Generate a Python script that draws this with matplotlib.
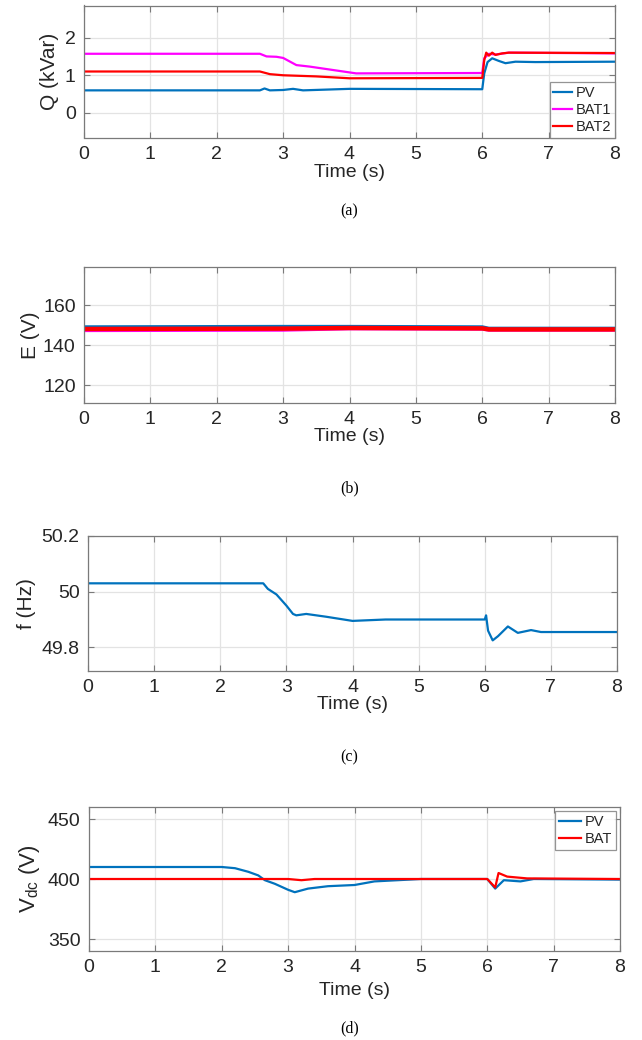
import matplotlib
matplotlib.use("Agg")
import matplotlib.pyplot as plt

plt.rcParams['font.family'] = ['Liberation Sans', 'DejaVu Sans']

# ---------------- data ----------------
# (a) reactive power
t_q_pv = [0, 2.65, 2.72, 2.8, 3.0, 3.15, 3.3, 4.0, 6.0, 6.03, 6.08, 6.15, 6.25, 6.35, 6.5, 6.8, 8.0]
q_pv = [0.60, 0.60, 0.65, 0.60, 0.61, 0.64, 0.60, 0.64, 0.63, 1.05, 1.35, 1.45, 1.38, 1.32, 1.36, 1.35, 1.36]
t_q_bat1 = [0, 2.65, 2.75, 2.9, 3.0, 3.2, 3.4, 4.1, 6.0, 6.03, 6.1, 6.2, 6.4, 8.0]
q_bat1 = [1.57, 1.57, 1.50, 1.49, 1.46, 1.27, 1.23, 1.05, 1.06, 1.45, 1.57, 1.55, 1.60, 1.58]
t_q_bat2 = [0, 2.65, 2.8, 3.0, 3.5, 4.0, 6.0, 6.03, 6.06, 6.1, 6.15, 6.2, 6.3, 6.4, 8.0]
q_bat2 = [1.10, 1.10, 1.03, 1.00, 0.97, 0.92, 0.93, 1.40, 1.60, 1.52, 1.60, 1.54, 1.58, 1.60, 1.59]

# (b) voltage amplitude
t_e = [0, 3.0, 4.0, 6.0, 6.1, 8.0]
e_pv = [149.0, 149.2, 149.2, 149.0, 148.3, 148.3]
e_bat1 = [147.3, 147.5, 148.2, 148.0, 147.5, 147.5]
e_bat2 = [148.0, 148.2, 148.5, 148.3, 147.8, 147.8]

# (c) frequency
t_f = [0, 2.65, 2.72, 2.85, 3.0, 3.1, 3.15, 3.3, 3.6, 4.0, 4.5, 6.0, 6.02, 6.05, 6.12, 6.2, 6.35, 6.5, 6.7, 6.85, 8.0]
f = [50.03, 50.03, 50.01, 49.99, 49.95, 49.92, 49.915, 49.92, 49.91, 49.895, 49.90, 49.90, 49.915, 49.86, 49.825, 49.84, 49.875, 49.852, 49.862, 49.855, 49.855]

# (d) DC-link voltage
t_v_pv = [0, 2.0, 2.2, 2.4, 2.55, 2.65, 2.8, 3.0, 3.1, 3.3, 3.6, 4.0, 4.3, 5.0, 6.0, 6.12, 6.25, 6.5, 6.7, 8.0]
v_pv = [410, 410, 409, 406, 403, 399, 396, 391, 389, 392, 394, 395, 398, 400, 400, 392, 399, 398, 400, 399.5]
t_v_bat = [0, 3.0, 3.2, 3.4, 6.0, 6.12, 6.17, 6.3, 6.6, 8.0]
v_bat = [400, 400, 399, 400, 400, 393, 405, 402, 400.5, 400]

x_ticks = [0, 1, 2, 3, 4, 5, 6, 7, 8]

# ---------------- figure ----------------
W, H = 642, 1040
fig = plt.figure(figsize=(W / 100, H / 100), dpi=100)

BLUE = '#0072BD'
MAG = '#FF00FF'
RED = '#FF0000'
TXT = '#262626'
EDGE = '#7a7a7a'
GRID = '#e3e3e3'

def make_ax(l, r, top, bot):
    ax = fig.add_axes([l / W, 1 - bot / H, (r - l) / W, (bot - top) / H])
    ax.set_xlim(0, 8)
    ax.set_xticks(x_ticks)
    ax.grid(True, color=GRID, linewidth=0.9)
    ax.set_axisbelow(True)
    for s in ax.spines.values():
        s.set_color(EDGE)
        s.set_linewidth(0.9)
    ax.tick_params(axis='both', labelsize=14, colors=TXT, length=4, width=0.8,
                   direction='in', pad=6, top=True, right=True)
    ax.tick_params(axis='both', color=EDGE)
    return ax

def caption(y, text):
    fig.text((84 + 615) / 2 / W, 1 - y / H, text, ha='center', va='center',
             fontsize=11.5, family='Liberation Serif', color='black')

def style_legend(leg):
    leg.get_frame().set_edgecolor(EDGE)
    leg.get_frame().set_linewidth(0.9)
    for t in leg.get_texts():
        t.set_color(TXT)

# (a)
ax = make_ax(84, 615, 5.5, 137.5)
ax.plot(t_q_pv, q_pv, color=BLUE, lw=1.6, label='PV')
ax.plot(t_q_bat1, q_bat1, color=MAG, lw=1.6, label='BAT1')
ax.plot(t_q_bat2, q_bat2, color=RED, lw=1.6, label='BAT2')
ax.set_ylim(-0.65, 2.85)
ax.set_yticks([0, 1, 2])
ax.set_ylabel('Q (kVar)', fontsize=15, color=TXT, labelpad=4)
ax.set_xlabel('Time (s)', fontsize=14, color=TXT, labelpad=1)
leg = ax.legend(loc='lower right', fontsize=10.5, frameon=True, fancybox=False,
                borderpad=0.25, labelspacing=0.2, handlelength=1.3, handletextpad=0.25,
                borderaxespad=0.0)
style_legend(leg)
caption(211, '(a)')

# (b)
ax = make_ax(84, 615, 267, 403)
ax.plot(t_e, e_pv, color=BLUE, lw=2.5)
ax.plot(t_e, e_bat1, color=MAG, lw=2.5)
ax.plot(t_e, e_bat2, color=RED, lw=3.2)
ax.set_ylim(111, 179)
ax.set_yticks([120, 140, 160])
ax.set_ylabel('E (V)', fontsize=15, color=TXT, labelpad=2)
ax.set_xlabel('Time (s)', fontsize=14, color=TXT, labelpad=0)
caption(488, '(b)')

# (c)
ax = make_ax(88, 617, 536, 671)
ax.plot(t_f, f, color=BLUE, lw=1.6)
ax.set_ylim(49.715, 50.2)
ax.set_yticks([49.8, 50.0, 50.2])
ax.set_yticklabels(['49.8', '50', '50.2'])
ax.set_ylabel('f (Hz)', fontsize=15, color=TXT, labelpad=4)
ax.set_xlabel('Time (s)', fontsize=14, color=TXT, labelpad=0)
caption(757, '(c)')

# (d)
ax = make_ax(89, 620, 807, 951)
ax.plot(t_v_pv, v_pv, color=BLUE, lw=1.6, label='PV')
ax.plot(t_v_bat, v_bat, color=RED, lw=1.6, label='BAT')
ax.set_ylim(340, 460)
ax.set_yticks([350, 400, 450])
ax.set_ylabel(r'V$_{\mathregular{dc}}$ (V)', fontsize=16, color=TXT, labelpad=4)
ax.set_xlabel('Time (s)', fontsize=14, color=TXT, labelpad=4)
leg = ax.legend(loc='upper right', fontsize=10.5, frameon=True, fancybox=False,
                borderpad=0.25, labelspacing=0.2, handlelength=1.5, handletextpad=0.25,
                borderaxespad=0.3)
style_legend(leg)
caption(1028, '(d)')

fig.savefig('out.png', dpi=100)
